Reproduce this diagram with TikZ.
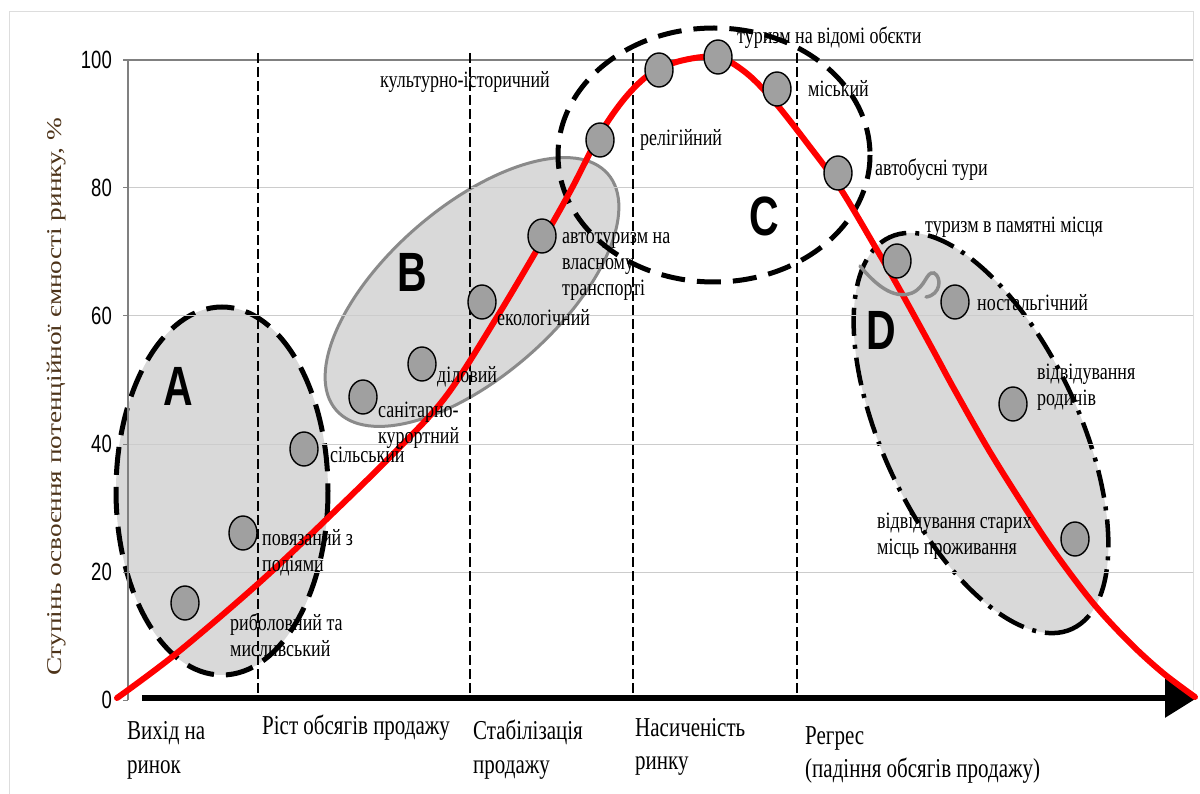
\documentclass[tikz,border=0pt]{standalone}
\usepackage{fontspec}
\setmainfont{Liberation Serif}
\setsansfont{Liberation Sans}
\usepackage{graphicx}
\usetikzlibrary{arrows.meta,shapes.geometric}
\definecolor{shadec}{HTML}{D9D9D9}
\definecolor{gridc}{HTML}{CCCCCC}
\definecolor{axisc}{HTML}{808080}
\definecolor{mkc}{HTML}{A0A0A0}
\definecolor{framec}{HTML}{DDDDDD}
\definecolor{ylabc}{HTML}{4D3319}
\definecolor{bborder}{HTML}{8A8A8A}
\definecolor{squigc}{HTML}{8C8C8C}
\begin{document}
\begin{tikzpicture}[x=1pt,y=-1pt,
  mk/.style={ellipse, draw=black, line width=1.4pt, fill=mkc, minimum width=28pt, minimum height=34pt, inner sep=0pt},
  lbl/.style={font=\fontsize{18}{20}\selectfont, yscale=1.3, anchor=west, inner sep=0pt, align=left},
  stagelbl/.style={font=\fontsize{21}{26}\selectfont, yscale=1.3, anchor=west, inner sep=0pt, align=left},
  ticklbl/.style={font=\sffamily\fontsize{18.5}{20}\selectfont, yscale=1.35, anchor=east, inner sep=0pt},
  letterlbl/.style={font=\sffamily\bfseries\fontsize{41}{41}\selectfont, yscale=1.35, inner sep=0pt},
  gridline/.style={gridc, line width=1pt},
  stageline/.style={black, line width=2pt, dash pattern=on 10pt off 4pt},
  zone/.style={fill=shadec}
]
\useasboundingbox (0,0) rectangle (1200,794);
\fill[white] (0,0) rectangle (1200,794);
% frame
\draw[framec, line width=1pt] (9,794) -- (9,12) -- (1193,12) -- (1193,690);

% zones A, B, D
\draw[zone, draw=black, line width=5pt, dash pattern=on 28pt off 12pt] (222,491) ellipse [x radius=106, y radius=184];
\draw[zone, draw=bborder, line width=3pt, shift={(472,292)}, rotate=41] (0,0) ellipse [x radius=180, y radius=85];
\draw[zone, draw=black, line width=4.5pt, dash pattern=on 28pt off 9pt on 4pt off 9pt, shift={(981,433)}, rotate=-65] (0,0) ellipse [x radius=216, y radius=98];

% grid and axis
\foreach \yy in {188,316,444,572} {\draw[gridline] (128,\yy) -- (1193,\yy);}
\draw[axisc, line width=1.5pt] (123,60) -- (1193,60);
\draw[axisc, line width=1.2pt] (128,60) -- (128,700);
\foreach \yy in {188,316,444,572,700} {\draw[axisc, line width=1pt] (123,\yy) -- (128,\yy);}

\node[ticklbl] (t100) at (112,60) {100};
\node[ticklbl] (t80) at (112,188) {80};
\node[ticklbl] (t60) at (112,316) {60};
\node[ticklbl] (t40) at (112,444) {40};
\node[ticklbl] (t20) at (112,572) {20};
\node[ticklbl] (t0) at (112,700) {0};

% stage boundaries
\foreach \xx in {258,470,633,797} {\draw[stageline] (\xx,53) -- (\xx,698);}

% zone C
\draw[black, line width=5pt, dash pattern=on 24pt off 12pt] (714,155) ellipse [x radius=156, y radius=127];

% x axis
\coordinate (xs) at (142,698);
\coordinate (xe) at (1197,698);
\draw[black, line width=6pt, -{Triangle[length=32pt,width=38pt]}] (xs) -- (xe);

% red curve
\draw[red, line width=6pt, line cap=round] plot[smooth, tension=0.55] coordinates {
 (117,698) (177,653) (260,582) (333,513) (400,447) (447,395) (497,317) (545,236)
 (572,188) (600,134) (625,98) (650,74) (680,61) (717,57) (745,72) (773,100)
 (807,143) (840,188) (877,250) (900,290) (933,350) (953,387) (987,447) (1020,500)
 (1053,550) (1093,603) (1130,643) (1163,673) (1195,697)};

% squiggle
\draw[squigc, line width=3.5pt, line cap=round] (860,266) .. controls (875,284) and (893,300) .. (912,293) .. controls (926,287) and (926,271) .. (934,273) .. controls (942,277) and (941,295) .. (926,297);

% markers
\node[mk] (m1) at (185,603) {};
\node[mk] (m2) at (243,533) {};
\node[mk] (m3) at (304,449) {};
\node[mk] (m4) at (363,397) {};
\node[mk] (m5) at (422,364) {};
\node[mk] (m6) at (482,302) {};
\node[mk] (m7) at (542,236) {};
\node[mk] (m8) at (600,140) {};
\node[mk] (m9) at (659,70) {};
\node[mk] (m10) at (718,57) {};
\node[mk] (m11) at (777,89) {};
\node[mk] (m12) at (838,173) {};
\node[mk] (m13) at (897,261) {};
\node[mk] (m14) at (955,302) {};
\node[mk] (m15) at (1013,404) {};
\node[mk] (m16) at (1075,539) {};

% zone letters
\node[letterlbl] (la) at (178,386) {A};
\node[letterlbl] (lb) at (412,272) {B};
\node[letterlbl] (lc) at (764,216) {C};
\node[letterlbl] (ld) at (881,330) {D};

% type labels
\node[lbl] (n1) at (230,635) {риболовний та\\мисливський};
\node[lbl] (n2) at (262,553) {повязаний з\\подіями};
\node[lbl] (n3) at (330,455) {сільський};
\node[lbl] (n4) at (378,425) {санітарно-\\курортний};
\node[lbl] (n5) at (437,377) {діловий};
\node[lbl] (n6) at (497,318) {екологічний};
\node[lbl] (n7) at (562,266) {автотуризм на\\власному\\транспорті};
\node[lbl] (n8) at (640,140) {релігійний};
\node[lbl] (n9) at (380,82) {культурно-історичний};
\node[lbl] (n10) at (737,38) {туризм на відомі обєкти};
\node[lbl] (n11) at (808,89) {міський};
\node[lbl] (n12) at (875,170) {автобусні тури};
\node[lbl] (n13) at (925,227) {туризм в памятні місця};
\node[lbl] (n14) at (977,303) {ностальгічний};
\node[lbl] (n15) at (1037,387) {відвідування\\родичів};
\node[lbl] (n16) at (877,536) {відвідування старих\\місць проживання};

% stage labels
\node[stagelbl] (s1) at (127,750) {Вихід на\\ринок};
\node[stagelbl] (s2) at (262,728) {Ріст обсягів продажу};
\node[stagelbl] (s3) at (473,750) {Стабілізація\\продажу};
\node[stagelbl] (s4) at (635,747) {Насиченість\\ринку};
\node[stagelbl] (s5) at (805,755) {Регрес\\(падіння обсягів продажу)};

% y label
\node[font=\fontsize{21}{24}\selectfont, text=ylabc, inner sep=0pt, rotate=90, xscale=1.3] (ylab) at (57,397) {Ступінь освоєння потенційної ємності ринку, \%};
\end{tikzpicture}
\end{document}
